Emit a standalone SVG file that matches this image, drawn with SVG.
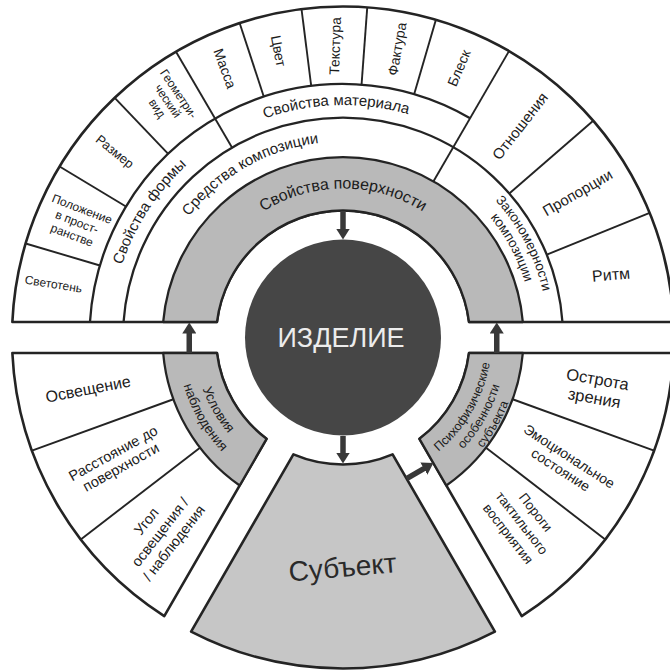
<svg xmlns="http://www.w3.org/2000/svg" width="670" height="670" viewBox="0 0 670 670">
<style>
.blk{fill:#fff;stroke:#242424;stroke-width:2.6;stroke-linejoin:round}
.gr{fill:#b9b9b9;stroke:#242424;stroke-width:2.3;stroke-linejoin:round}
.subj{fill:#c6c6c6;stroke:#242424;stroke-width:2.6;stroke-linejoin:round}
.ln{fill:none;stroke:#242424;stroke-width:2.3}
.dv{stroke:#242424;stroke-width:1.9}
text{font-family:"Liberation Sans",Arial,sans-serif;fill:#1c1c1c;text-anchor:middle}
.arr{stroke:#383838;stroke-width:5.5;marker-end:url(#ah)}
</style>
<defs>
<marker id="ah" viewBox="0 0 11 14" refX="3" refY="7" markerWidth="11" markerHeight="14" markerUnits="userSpaceOnUse" orient="auto"><path d="M0,0 L11,7 L0,14 Z" fill="#383838"/></marker>
<!-- arcs for curved labels, centred on the hub (343,337.5) -->
<path id="p-surf" d="M -140.01 -50.96 A 149 149 0 0 1 140.01 -50.96"/>
<path id="p-means" d="M -192.72 -35.72 A 196 196 0 0 1 68.64 -183.59"/>
<path id="p-mat" d="M -182.46 -144.10 A 232.5 232.5 0 0 1 173.59 -154.67"/>
<path id="p-form" d="M -222.34 67.98 A 232.5 232.5 0 0 1 -28.33 -230.77"/>
<path id="p-law1" d="M 44.36 -200.14 A 205 205 0 0 1 189.39 78.45"/>
<path id="p-law2" d="M 39.51 -185.85 A 190 190 0 0 1 176.16 71.17"/>
<path id="p-obs1" d="M -140.48 -51.13 A 149.5 149.5 0 0 0 -25.96 147.23"/>
<path id="p-obs2" d="M -156.46 -56.95 A 166.5 166.5 0 0 0 -28.91 163.97"/>
<path id="p-psy1" d="M 25.87 146.74 A 149 149 0 0 0 140.02 -50.96"/>
<path id="p-psy2" d="M 28.48 161.51 A 164 164 0 0 0 154.11 -56.09"/>
<path id="p-psy3" d="M 30.91 175.29 A 178 178 0 0 0 167.27 -60.88"/>
</defs>
<rect width="670" height="670" fill="#fff"/>

<!-- upper half-ring -->
<g id="upper-ring">
<path class="blk" d="M 12.36 322 A 331 331 0 0 1 673.64 322 L 469.05 322 A 127 127 0 0 0 216.95 322 Z"/>
<path class="gr" d="M 163.17 322 A 180.5 180.5 0 0 1 522.83 322 L 469.05 322 A 127 127 0 0 0 216.95 322 Z"/>
<path class="ln" d="M 123.55 322 A 220 220 0 0 1 562.45 322"/>
<path class="ln" d="M 89.97 322 A 253.5 253.5 0 0 1 470.13 118.18"/>
<g transform="translate(343 337.5)">
<line class="dv" x1="253.5" x2="331" transform="rotate(-163.5)"/>
<line class="dv" x1="253.5" x2="331" transform="rotate(-148.9)"/>
<line class="dv" x1="253.5" x2="331" transform="rotate(-133.6)"/>
<line class="dv" x1="220" x2="331" transform="rotate(-120.3)"/>
<line class="dv" x1="253.5" x2="331" transform="rotate(-108.2)"/>
<line class="dv" x1="253.5" x2="331" transform="rotate(-97.2)"/>
<line class="dv" x1="253.5" x2="331" transform="rotate(-85.8)"/>
<line class="dv" x1="253.5" x2="331" transform="rotate(-73.7)"/>
<line class="dv" x1="180.5" x2="331" transform="rotate(-59.9)"/>
<line class="dv" x1="220" x2="331" transform="rotate(-40.9)"/>
<line class="dv" x1="220" x2="331" transform="rotate(-22.1)"/>
</g>
</g>

<!-- lower-left sector -->
<g id="observation-sector">
<path class="blk" d="M 12.36 353 L 216.95 353 A 127 127 0 0 0 266.55 438.91 L 164.26 616.08 A 331 331 0 0 1 12.36 353 Z"/>
<path class="gr" d="M 163.17 353 L 216.95 353 A 127 127 0 0 0 266.55 438.91 L 239.66 485.48 A 180.5 180.5 0 0 1 163.17 353 Z"/>
<g transform="translate(343 337.5)">
<line class="dv" x1="180.5" x2="331" transform="rotate(-200)"/>
<line class="dv" x1="180.5" x2="331" transform="rotate(-217.6)"/>
</g>
</g>

<!-- lower-right sector -->
<g id="psycho-sector">
<path class="blk" d="M 673.64 353 L 469.05 353 A 127 127 0 0 1 419.45 438.91 L 521.74 616.08 A 331 331 0 0 0 673.64 353 Z"/>
<path class="gr" d="M 522.83 353 L 469.05 353 A 127 127 0 0 1 419.45 438.91 L 446.34 485.48 A 180.5 180.5 0 0 0 522.83 353 Z"/>
<g transform="translate(343 337.5)">
<line class="dv" x1="180.5" x2="331" transform="rotate(20)"/>
<line class="dv" x1="180.5" x2="331" transform="rotate(37.6)"/>
</g>
</g>

<!-- subject wedge -->
<g id="subject">
<path class="subj" d="M 293.40 454.41 A 127 127 0 0 0 392.60 454.41 L 494.90 631.58 A 331 331 0 0 1 191.10 631.58 Z"/>
<text transform="translate(342.5 567) rotate(-5)" font-size="28" dy="0.35em" style="fill:#2a2a2a">Субъект</text>
</g>

<!-- product hub -->
<g id="product">
<circle cx="343" cy="337.5" r="98" fill="#464646"/>
<text x="341" y="347" font-size="27" style="fill:#ececec">ИЗДЕЛИЕ</text>
</g>

<!-- connectors -->
<g id="connectors">
<line class="arr" x1="343" y1="211" x2="343" y2="231.5"/>
<line class="arr" x1="343" y1="436" x2="343" y2="455.5"/>
<line class="arr" x1="189.25" y1="353" x2="189.25" y2="330.5"/>
<line class="arr" x1="496.75" y1="353" x2="496.75" y2="330.5"/>
<line class="arr" x1="406.6" y1="478.6" x2="426.47" y2="467.12"/>
</g>

<!-- curved ring labels -->
<g transform="translate(343 337.5)">
<g id="surface-props"><text font-size="16"><textPath href="#p-surf" startOffset="50%">Свойства поверхности</textPath></text></g>
<g id="composition-means"><text font-size="15"><textPath href="#p-means" startOffset="50%">Средства композиции</textPath></text></g>
<g id="material-props"><text font-size="15"><textPath href="#p-mat" startOffset="50%">Свойства материала</textPath></text></g>
<g id="form-props"><text font-size="15"><textPath href="#p-form" startOffset="50%">Свойства формы</textPath></text></g>
<g id="composition-laws">
<text font-size="13.5"><textPath href="#p-law1" startOffset="50%">Закономерности</textPath></text>
<text font-size="13.5"><textPath href="#p-law2" startOffset="50%">композиции</textPath></text>
</g>
<g id="observation">
<text font-size="13.5"><textPath href="#p-obs1" startOffset="50%">Условия</textPath></text>
<text font-size="13.5"><textPath href="#p-obs2" startOffset="50%">наблюдения</textPath></text>
</g>
<g id="psycho">
<text font-size="12.5"><textPath href="#p-psy1" startOffset="50%">Психофизические</textPath></text>
<text font-size="12.5"><textPath href="#p-psy2" startOffset="50%">особенности</textPath></text>
<text font-size="12.5"><textPath href="#p-psy3" startOffset="50%">субъекта</textPath></text>
</g>
</g>

<!-- cell labels -->
<g id="chiaroscuro"><text transform="translate(53.5 284) rotate(9)" font-size="12" dy="0.35em">Светотень</text></g>
<g id="position"><text transform="translate(77 222) rotate(21)" font-size="12"><tspan x="0" y="-9.8">Положение</tspan><tspan x="0" y="4.2">в прост-</tspan><tspan x="0" y="18.2">ранстве</tspan></text></g>
<g id="size"><text transform="translate(115 151.5) rotate(39)" font-size="13" dy="0.35em">Размер</text></g>
<g id="geometry"><text transform="translate(168 101) rotate(56)" font-size="12"><tspan x="0" y="-8.8">Геометри-</tspan><tspan x="0" y="4.2">ческий</tspan><tspan x="0" y="17.2">вид</tspan></text></g>
<g id="mass"><text transform="translate(225 68.5) rotate(70)" font-size="14" dy="0.35em">Масса</text></g>
<g id="colour"><text transform="translate(278.5 51) rotate(79)" font-size="14" dy="0.35em">Цвет</text></g>
<g id="texture"><text transform="translate(335 46) rotate(-88)" font-size="14" dy="0.35em">Текстура</text></g>
<g id="facture"><text transform="translate(397 49) rotate(-80)" font-size="14" dy="0.35em">Фактура</text></g>
<g id="gloss"><text transform="translate(459 68) rotate(-67)" font-size="14" dy="0.35em">Блеск</text></g>
<g id="relations"><text transform="translate(520 126) rotate(-52)" font-size="15" dy="0.35em">Отношения</text></g>
<g id="proportions"><text transform="translate(577.5 192.5) rotate(-30)" font-size="15" dy="0.35em">Пропорции</text></g>
<g id="rhythm"><text transform="translate(611 274.5) rotate(-5)" font-size="16" dy="0.35em">Ритм</text></g>

<g id="lighting"><text transform="translate(88 389) rotate(-11)" font-size="16" dy="0.35em">Освещение</text></g>
<g id="distance"><text transform="translate(117 460) rotate(-29)" font-size="14.5"><tspan x="0" y="-2.9">Расстояние до</tspan><tspan x="0" y="13.1">поверхности</tspan></text></g>
<g id="angle"><text transform="translate(160 532) rotate(-52)" font-size="14.5"><tspan x="0" y="-12.4">Угол</tspan><tspan x="0" y="5.1">освещения /</tspan><tspan x="0" y="22.6">/ наблюдения</tspan></text></g>

<g id="acuity"><text transform="translate(596 388.5) rotate(10)" font-size="16.5"><tspan x="0" y="-3.7">Острота</tspan><tspan x="0" y="15.3">зрения</tspan></text></g>
<g id="emotion"><text transform="translate(565 463) rotate(33)" font-size="14"><tspan x="0" y="-3.1">Эмоциональное</tspan><tspan x="0" y="12.9">состояние</tspan></text></g>
<g id="tactile"><text transform="translate(522 523) rotate(52)" font-size="13.5"><tspan x="0" y="-12.8">Пороги</tspan><tspan x="0" y="4.7">тактильного</tspan><tspan x="0" y="22.2">восприятия</tspan></text></g>
</svg>
